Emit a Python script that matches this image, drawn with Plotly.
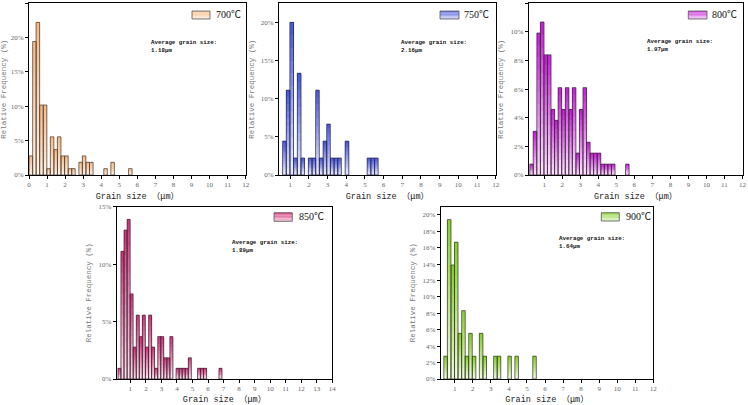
import plotly.graph_objects as go

# ---------------- data ----------------
bin_width = 0.197  # histogram bin width (um)

sizes_700 = [0.10, 0.30, 0.49, 0.69, 0.89, 1.08, 1.28, 1.48, 1.67, 1.87, 2.07, 2.27, 2.46,
             2.86, 3.05, 3.25, 3.45, 4.24, 4.63, 5.61]
freq_700 = [2.78, 19.44, 22.22, 10.19, 10.19, 0.93, 5.56, 3.70, 5.56, 2.78, 2.78, 0.93, 0.93,
            1.85, 2.78, 1.85, 1.85, 0.93, 1.85, 0.93]

sizes_750 = [0.69, 0.89, 1.08, 1.28, 1.48, 1.67, 2.07, 2.27, 2.46, 2.66, 2.86, 3.05, 3.25,
             3.45, 3.64, 4.04, 5.22, 5.42, 5.61]
freq_750 = [4.44, 11.11, 20.00, 2.22, 13.33, 2.22, 2.22, 2.22, 11.11, 2.22, 4.44, 6.67, 2.22,
            2.22, 2.22, 4.44, 2.22, 2.22, 2.22]

sizes_800 = [0.30, 0.49, 0.69, 0.89, 1.08, 1.28, 1.48, 1.67, 1.87, 2.07, 2.27, 2.46, 2.66,
             2.86, 3.05, 3.25, 3.45, 3.64, 3.84, 4.04, 4.24, 4.43, 4.63, 4.83, 5.61]
freq_800 = [0.76, 3.05, 9.92, 10.69, 8.40, 8.40, 4.58, 3.82, 6.11, 4.58, 6.11, 4.58, 6.11,
            1.53, 4.58, 6.11, 2.29, 1.53, 1.53, 1.53, 0.76, 0.76, 0.76, 0.76, 0.76]

sizes_850 = [0.30, 0.49, 0.69, 0.89, 1.08, 1.28, 1.48, 1.67, 1.87, 2.07, 2.27, 2.46, 2.66,
             2.86, 3.05, 3.25, 3.45, 3.64, 4.04, 4.24, 4.43, 4.63, 4.83, 5.42, 5.61, 5.81, 6.80]
freq_850 = [0.93, 11.11, 12.96, 13.89, 7.41, 2.78, 5.56, 3.70, 5.56, 2.78, 5.56, 2.78, 0.93,
            3.70, 3.70, 1.85, 1.85, 3.70, 0.93, 0.93, 0.93, 0.93, 1.85, 0.93, 0.93, 0.93, 0.93]

sizes_900 = [0.49, 0.69, 0.89, 1.08, 1.28, 1.48, 1.67, 1.87, 2.07, 2.46, 2.66, 3.25, 3.45,
             4.04, 4.43, 5.42]
freq_900 = [2.78, 19.44, 13.89, 16.67, 5.56, 8.33, 2.78, 5.56, 2.78, 5.56, 2.78, 2.78, 2.78,
            2.78, 2.78, 2.78]

series_labels = ["700℃", "750℃", "800℃", "850℃", "900℃"]
avg_grain = ["1.18μm", "2.16μm", "1.97μm", "1.89μm", "1.64μm"]

x_tick_vals = [list(range(0, 13)), list(range(1, 13)), list(range(1, 13)),
               list(range(1, 15)), list(range(1, 13))]
y_tick_vals = [[0, 5, 10, 15, 20, 25], [0, 5, 10, 15, 20], [0, 2, 4, 6, 8, 10, 12],
               [0, 5, 10, 15], [0, 2, 4, 6, 8, 10, 12, 14, 16, 18, 20]]
y_tick_text = [["%d%%" % v for v in vals] for vals in y_tick_vals]

# ---------------- styling / layout ----------------
W, H = 748, 405
x_ranges = [[0, 12], [0.4, 12], [0.14, 12], [0.12, 14], [0.22, 12]]
y_ranges = [[0, 25], [0, 22.5], [0, 12], [0, 15], [0, 21]]
boxes = [(29, 3.3, 245.7, 175), (279, 3.3, 495.7, 175), (528.7, 3.3, 742.5, 175),
         (116.7, 206.7, 332.3, 379), (440.7, 206.7, 653.3, 379)]
grad = [("#F5B985", "#FEF2E8"), ("#4353DC", "#EFF1FD"), ("#C31BD5", "#FCE9FC"),
        ("#D02E79", "#FCE6F0"), ("#84CF25", "#F5FBEA")]
outline = ["#5b4636", "#2c2c5c", "#4a2a4a", "#4a2a3a", "#3c4a2a"]
swatches = [(192, 11, 210, 19), (440, 11, 459, 19), (688.3, 11, 707, 19),
            (274, 212.7, 292.3, 221.3), (601.3, 212.7, 619.3, 221)]
leg_text = [(214, 15), (462, 15), (710, 15), (296.7, 217), (624, 217)]
avg_pos = [(149, 37), (399, 37), (644.7, 36), (230, 237), (557, 233)]

all_sizes = [sizes_700, sizes_750, sizes_800, sizes_850, sizes_900]
all_freq = [freq_700, freq_750, freq_800, freq_850, freq_900]

N_SEG = 12


def hex2rgb(h):
    h = h.lstrip("#")
    return tuple(int(h[i:i + 2], 16) for i in (0, 2, 4))


def mix(c_top, c_bot, t):
    a, b = hex2rgb(c_top), hex2rgb(c_bot)
    return "rgb(%d,%d,%d)" % tuple(round(b[i] + (a[i] - b[i]) * t) for i in range(3))


def px(x):
    return x / W


def py(y):
    return 1 - y / H


fig = go.Figure()
layout = dict(width=W, height=H, margin=dict(l=0, r=0, t=0, b=0, autoexpand=False),
              paper_bgcolor="white", plot_bgcolor="white", barmode="overlay",
              bargap=0, showlegend=False)
shapes, annotations = [], []

tick_font = dict(family="Liberation Serif", size=7, color="#666666")

for p in range(5):
    xa = "x" if p == 0 else "x%d" % (p + 1)
    ya = "y" if p == 0 else "y%d" % (p + 1)
    sizes, freq = all_sizes[p], all_freq[p]
    top, bot = grad[p]
    for j in range(N_SEG):
        t = (j + 0.5) / N_SEG
        fig.add_trace(go.Bar(
            x=sizes, y=[v / N_SEG for v in freq], base=[v * j / N_SEG for v in freq],
            width=bin_width, marker=dict(color=mix(top, bot, t), line=dict(width=0)),
            xaxis=xa, yaxis=ya, hoverinfo="skip", showlegend=False))
    fig.add_trace(go.Bar(
        x=sizes, y=freq, base=[0] * len(freq), width=bin_width, name=series_labels[p],
        marker=dict(color="rgba(0,0,0,0)", line=dict(color=outline[p], width=0.8)),
        xaxis=xa, yaxis=ya, showlegend=False))

    x0, y0, x1, y1 = boxes[p]
    kx = "xaxis" if p == 0 else "xaxis%d" % (p + 1)
    ky = "yaxis" if p == 0 else "yaxis%d" % (p + 1)
    layout[kx] = dict(domain=[px(x0), px(x1)], range=x_ranges[p], anchor=ya,
                      automargin=False,
                      tickmode="array", tickvals=x_tick_vals[p],
                      showline=True, linecolor="black", linewidth=1, mirror=True,
                      ticks="outside", ticklen=3, tickcolor="black", tickwidth=1,
                      showgrid=False, zeroline=False, tickfont=tick_font,
                      title=dict(text="Grain size （μm）", standoff=4,
                                 font=dict(family="Liberation Mono, Noto Sans CJK SC",
                                           size=8.5, color="#222222")))
    layout[ky] = dict(domain=[py(y1), py(y0)], range=y_ranges[p], anchor=xa,
                      automargin=False,
                      tickmode="array", tickvals=y_tick_vals[p], ticktext=y_tick_text[p],
                      showline=True, linecolor="black", linewidth=1, mirror=True,
                      ticks="outside", ticklen=3, tickcolor="black", tickwidth=1,
                      showgrid=False, zeroline=False, tickfont=tick_font,
                      title=dict(text="Relative Frequency (%)", standoff=5,
                                 font=dict(family="Liberation Mono", size=7.5,
                                           color="#777777")))

    # legend swatch (gradient) + label
    sx0, sy0, sx1, sy1 = swatches[p]
    nb = 6
    for k in range(nb):
        ya0 = sy1 - (sy1 - sy0) * k / nb
        ya1 = sy1 - (sy1 - sy0) * (k + 1) / nb
        shapes.append(dict(type="rect", xref="paper", yref="paper",
                           x0=px(sx0), x1=px(sx1), y0=py(ya0), y1=py(ya1),
                           fillcolor=mix(top, bot, 0.15 + 0.7 * (k + 0.5) / nb),
                           line=dict(width=0), layer="above"))
    shapes.append(dict(type="rect", xref="paper", yref="paper",
                       x0=px(sx0), x1=px(sx1), y0=py(sy1), y1=py(sy0),
                       fillcolor="rgba(0,0,0,0)", line=dict(color="#555555", width=0.8),
                       layer="above"))
    lx, ly = leg_text[p]
    annotations.append(dict(text=series_labels[p], xref="paper", yref="paper",
                            x=px(lx), y=py(ly), xanchor="left", yanchor="middle",
                            showarrow=False,
                            font=dict(family="Liberation Serif, Noto Sans CJK SC",
                                      size=10, color="#111111")))
    axp, ayp = avg_pos[p]
    annotations.append(dict(text="<b>Average grain size:</b><br><b>%s</b>" % avg_grain[p],
                            xref="paper", yref="paper", x=px(axp), y=py(ayp),
                            xanchor="left", yanchor="top", align="left", showarrow=False,
                            font=dict(family="Liberation Mono", size=5.8, color="#111111")))

layout["shapes"] = shapes
layout["annotations"] = annotations
fig.update_layout(**layout)
fig.write_html("out.html",
               config={"displayModeBar": False, "staticPlot": True},
               post_script="document.body.style.margin='0';document.body.style.overflow='hidden';")
